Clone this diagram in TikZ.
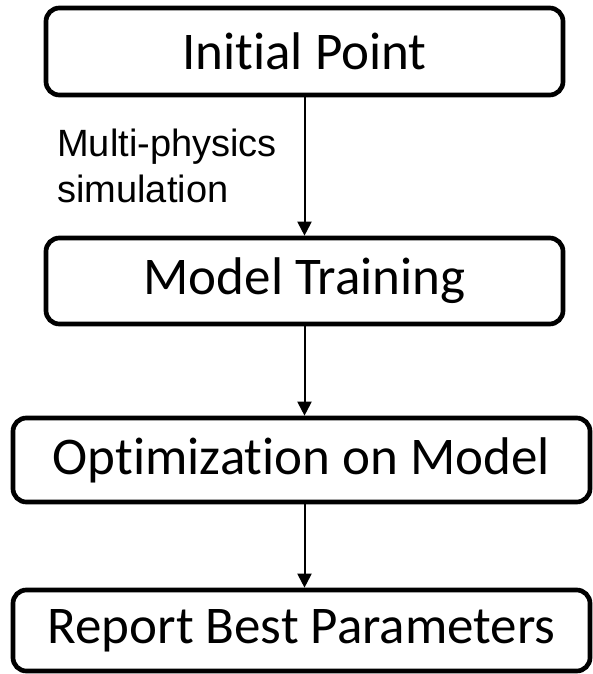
\documentclass[tikz,border=0pt]{standalone}
\usepackage{fontspec}
\setmainfont{Carlito}[Ligatures=NoCommon]
\newfontfamily\labelfont{Liberation Sans}
\usetikzlibrary{arrows.meta}
\begin{document}
\begin{tikzpicture}[x=0.75pt,y=-0.75pt,
  stepbox/.style={draw, line width=3.5pt, rounded corners=10pt, inner sep=0pt,
    font=\fontsize{39.75pt}{46pt}\selectfont},
  flow/.style={line width=1.5pt, -{Triangle[length=10.5pt,width=10.5pt]}},
  note/.style={inner sep=0pt, align=left,
    font=\labelfont\fontsize{28.5pt}{34.5pt}\selectfont}]
  \useasboundingbox (0,0) rectangle (592,674);

  % process steps
  \node[stepbox, minimum width=517*0.75pt, minimum height=87*0.75pt]
    (init) at (304.5,51.5) {Initial Point};
  \node[stepbox, minimum width=517*0.75pt, minimum height=86*0.75pt]
    (train) at (304.5,281) {Model Training};
  \node[stepbox, minimum width=577*0.75pt, minimum height=84*0.75pt]
    (opt) at (301.5,460) {Optimization on Model};
  \node[stepbox, minimum width=577*0.75pt, minimum height=81*0.75pt]
    (report) at (301.5,630.5) {Report Best Parameters};

  % connectors
  \draw[flow] (init.south) -- (train.north);
  \draw[flow] (train.south) -- (train.south |- opt.north);
  \draw[flow] (train.south |- opt.south) -- (train.south |- report.north);

  % edge label
  \node[note, anchor=north west] (sim) at (57,129) {Multi-physics\\simulation};
\end{tikzpicture}
\end{document}
